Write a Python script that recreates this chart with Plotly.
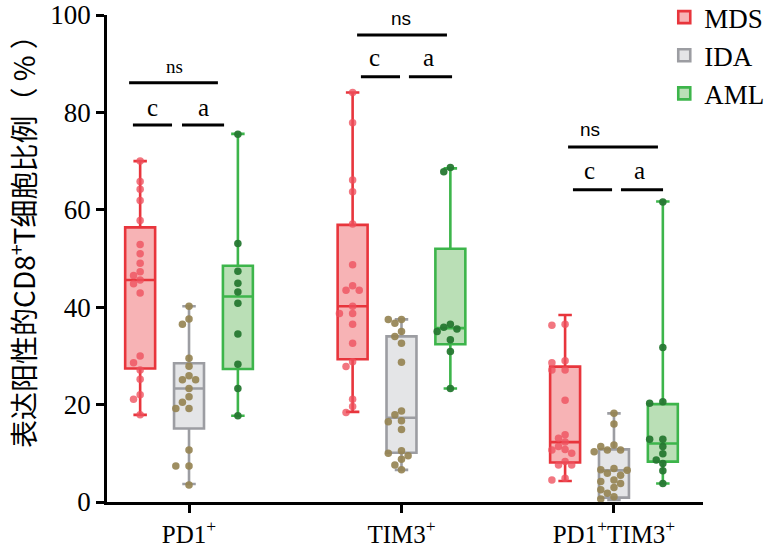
import math
import plotly.graph_objects as go

# ---------------- data ----------------
categories = ["PD1<sup>+</sup>", "TIM3<sup>+</sup>", "PD1<sup>+</sup>TIM3<sup>+</sup>"]
groups = ["MDS", "IDA", "AML"]
y_title = "表达阳性的CD8<sup>+</sup>T细胞比例（ % ）"

mds_pd1 = [70.0, 65.8, 64.2, 61.9, 57.8, 52.9, 51.0, 49.0, 47.3, 46.5, 45.6, 44.8, 42.9, 30.0, 28.6, 27.1, 25.2, 22.0, 21.1, 17.9]
ida_pd1 = [40.2, 37.6, 36.5, 29.5, 27.9, 25.9, 25.1, 25.1, 23.3, 21.6, 20.5, 19.2, 19.2, 10.7, 7.4, 7.4, 3.5]
aml_pd1 = [75.5, 53.1, 47.4, 44.9, 43.1, 40.8, 34.5, 28.3, 23.3, 17.7]

mds_tim3 = [84.1, 77.9, 66.1, 63.7, 57.1, 48.7, 44.4, 43.5, 43.5, 40.2, 38.7, 38.7, 36.5, 32.6, 28.8, 27.8, 21.1, 19.6, 18.4]
ida_tim3 = [37.5, 37.5, 36.7, 35.0, 34.0, 32.6, 28.7, 18.7, 17.9, 16.7, 16.5, 14.9, 10.5, 10.0, 9.5, 8.8, 7.6, 6.6]
aml_tim3 = [68.7, 67.8, 36.5, 35.9, 35.5, 35.0, 33.3, 30.9, 23.3]

mds_both = [36.5, 36.3, 29.0, 28.6, 27.1, 27.1, 20.9, 13.8, 13.1, 12.3, 11.4, 10.8, 10.7, 10.0, 8.3, 7.6, 7.6, 4.9, 4.5]
ida_both = [18.2, 16.0, 11.7, 11.4, 10.7, 10.7, 10.3, 6.9, 6.6, 6.5, 5.9, 5.5, 4.5, 4.2, 3.8, 3.0, 2.5, 1.8, 1.1, 0.6]
aml_both = [61.6, 31.7, 20.6, 20.3, 12.9, 12.9, 11.4, 9.9, 8.6, 7.9, 6.4, 3.8]

points = {
    "MDS": [mds_pd1, mds_tim3, mds_both],
    "IDA": [ida_pd1, ida_tim3, ida_both],
    "AML": [aml_pd1, aml_tim3, aml_both],
}

# box statistics (per category)
mds_q1 = [27.4, 29.3, 8.1]
mds_med = [45.6, 40.2, 12.3]
mds_q3 = [56.4, 56.9, 27.8]
mds_lo = [17.9, 18.5, 4.3]
mds_hi = [70.0, 84.1, 38.4]

ida_q1 = [15.1, 10.1, 0.9]
ida_med = [23.3, 17.3, 6.5]
ida_q3 = [28.5, 34.0, 10.8]
ida_lo = [3.7, 6.6, 0.4]
ida_hi = [40.2, 37.5, 18.2]

aml_q1 = [27.3, 32.4, 8.3]
aml_med = [42.2, 35.7, 12.0]
aml_q3 = [48.5, 52.0, 20.1]
aml_lo = [17.7, 23.3, 3.8]
aml_hi = [75.6, 68.5, 61.7]

stats = {
    "MDS": (mds_q1, mds_med, mds_q3, mds_lo, mds_hi),
    "IDA": (ida_q1, ida_med, ida_q3, ida_lo, ida_hi),
    "AML": (aml_q1, aml_med, aml_q3, aml_lo, aml_hi),
}

sig_labels = ["c", "a", "ns"]

# ---------------- styles ----------------
SERIF = "Liberation Serif, Times New Roman, Tinos, DejaVu Serif, serif"
SANS = "Liberation Sans, Arial, DejaVu Sans, sans-serif"
line_col = {"MDS": "#e8353c", "IDA": "#9c9da2", "AML": "#3db54b"}
fill_col = {"MDS": "#f7b3b5", "IDA": "#e4e5e7", "AML": "#badfb6"}
pt_col = {"MDS": "rgba(238,80,92,0.78)", "IDA": "rgba(150,132,84,0.92)", "AML": "rgba(38,120,50,0.95)"}
offset = {"MDS": -0.23, "IDA": 0.0, "AML": 0.23}

# pixel scale helpers (plot area geometry)
W, H = 779, 548
ML, MR, MT, MB = 107, 76, 15, 46
XR = [-0.386, 2.419]
YR = [0, 100]
px_per_x = (W - ML - MR) / (XR[1] - XR[0])
px_per_y = (H - MT - MB) / (YR[1] - YR[0])


def swarm(vals, center, step_px=6.6, diam_px=7.2):
    placed = []
    xs = []
    for v in vals:
        yp = v * px_per_y
        k_order = [0]
        for k in range(1, 8):
            k_order += [-k, k]
        chosen = 0
        for k in k_order:
            xo = k * step_px
            if all(math.hypot(xo - a, yp - b) >= diam_px for a, b in placed):
                chosen = xo
                break
        placed.append((chosen, yp))
        xs.append(center + chosen / px_per_x)
    return xs


fig = go.Figure()

for g in groups:
    q1, med, q3, lo, hi = stats[g]
    fig.add_trace(go.Box(
        name=g, legendgroup=g,
        x=[i + offset[g] for i in range(len(categories))],
        q1=q1, median=med, q3=q3, lowerfence=lo, upperfence=hi,
        width=0.141, whiskerwidth=0.45,
        line=dict(color=line_col[g], width=2.6),
        fillcolor=fill_col[g],
        boxpoints=False, hoverinfo="skip",
    ))

for g in groups:
    for i, vals in enumerate(points[g]):
        fig.add_trace(go.Scatter(
            x=swarm(vals, i + offset[g]), y=vals, mode="markers",
            legendgroup=g, showlegend=False, cliponaxis=False,
            marker=dict(size=7.5, color=pt_col[g], line=dict(width=0)),
            hoverinfo="skip",
        ))

# significance brackets (data coordinates)
brackets = [
    [(-0.264, -0.080, 77.4), (-0.033, 0.165, 77.4), (-0.282, 0.136, 86.1)],
    [(0.809, 0.993, 87.3), (1.035, 1.238, 87.3), (0.791, 1.214, 95.9)],
    [(1.807, 1.991, 64.1), (2.033, 2.231, 64.1), (1.784, 2.207, 72.9)],
]
label_pos = [
    [(-0.174, 81.1), (0.066, 81.1), (-0.066, 89.5)],
    [(0.875, 91.2), (1.125, 91.2), (0.998, 99.2)],
    [(1.887, 68.0), (2.122, 68.0), (1.887, 76.4)],
]
ns_font = [SERIF, SANS, SANS]

shapes = []
annotations = []
for ci in range(3):
    for j, lab in enumerate(sig_labels):
        x0, x1, y = brackets[ci][j]
        shapes.append(dict(type="line", xref="x", yref="y", x0=x0, x1=x1, y0=y, y1=y,
                           line=dict(color="black", width=3)))
        tx, ty = label_pos[ci][j]
        if lab == "ns":
            fnt = dict(family=ns_font[ci], size=19, color="black")
        else:
            fnt = dict(family=SERIF, size=25, color="black")
        annotations.append(dict(x=tx, y=ty, xref="x", yref="y", text=lab, showarrow=False,
                                font=fnt, xanchor="center", yanchor="middle"))

# y-axis title as rotated annotation
annotations.append(dict(x=-0.143, y=0.55, xref="paper", yref="paper", text=y_title,
                        textangle=-90, showarrow=False, xanchor="center", yanchor="middle",
                        font=dict(family="Noto Sans CJK SC", size=28, color="black")))

fig.update_layout(
    width=W, height=H,
    margin=dict(l=ML, r=MR, t=MT, b=MB, autoexpand=False),
    plot_bgcolor="white", paper_bgcolor="white",
    font=dict(family=SERIF, color="black"),
    shapes=shapes, annotations=annotations,
    legend=dict(x=0.935, y=1.045, xanchor="left", yanchor="top",
                font=dict(family=SERIF, size=27, color="black"),
                traceorder="grouped", tracegroupgap=0, bgcolor="rgba(0,0,0,0)"),
    xaxis=dict(range=XR, tickmode="array", tickvals=[0, 1, 2], ticktext=categories,
               showline=True, linecolor="black", linewidth=2.5, ticks="outside",
               ticklen=8, tickwidth=2.5, tickcolor="black", showgrid=False, zeroline=False,
               tickfont=dict(family=SERIF, size=25, color="black")),
    yaxis=dict(range=YR, tickmode="array", tickvals=[0, 20, 40, 60, 80, 100],
               showline=True, linecolor="black", linewidth=2.5, ticks="outside",
               ticklen=8, tickwidth=2.5, tickcolor="black", showgrid=False, zeroline=False,
               tickfont=dict(family=SERIF, size=27, color="black")),
)

fig.write_html("out.html")
